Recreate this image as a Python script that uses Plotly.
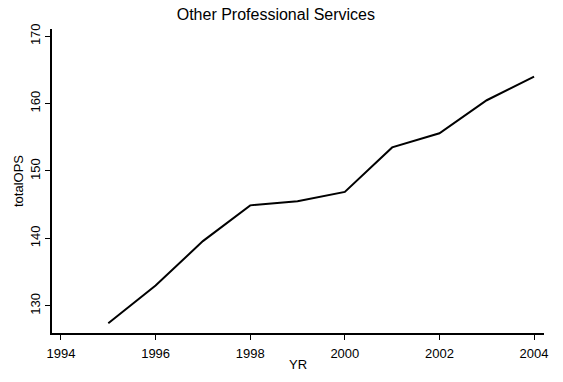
import plotly.graph_objects as go

years = [1995, 1996, 1997, 1998, 1999, 2000, 2001, 2002, 2003, 2004]
total_ops = [127.4, 133.0, 139.6, 144.9, 145.5, 146.9, 153.5, 155.6, 160.5, 164.0]
x_ticks = [1994, 1996, 1998, 2000, 2002, 2004]
y_ticks = [130, 140, 150, 160, 170]

fig = go.Figure()
fig.add_trace(go.Scatter(x=years, y=total_ops, mode="lines",
                         line=dict(color="black", width=2), showlegend=False))

font = "Liberation Sans, Arial, sans-serif"
fig.update_layout(
    width=563, height=382,
    margin=dict(l=52, r=19, t=29, b=40),
    paper_bgcolor="white", plot_bgcolor="white",
    font=dict(family=font, color="black", size=13),
    title=dict(text="Other Professional Services", x=0.49, xref="container", xanchor="center",
               y=1 - 14 / 382, yref="container", yanchor="middle",
               font=dict(size=16, family=font, color="black")),
)
fig.update_xaxes(range=[1993.81, 2004.21], tickvals=x_ticks, ticks="outside", ticklen=5,
                 tickcolor="black", showline=True, linecolor="black", linewidth=1.5,
                 showgrid=False, zeroline=False, ticklabelstandoff=3,
                 title=dict(text="YR", standoff=0, font=dict(size=13)))
fig.update_yaxes(range=[125.96, 171.07], tickvals=y_ticks, ticks="outside", ticklen=5,
                 tickcolor="black", tickangle=-90, showline=True, linecolor="black", linewidth=1.5,
                 showgrid=False, zeroline=False,
                 title=dict(text="totalOPS", standoff=1, font=dict(size=13)))

fig.write_html("out.html")
